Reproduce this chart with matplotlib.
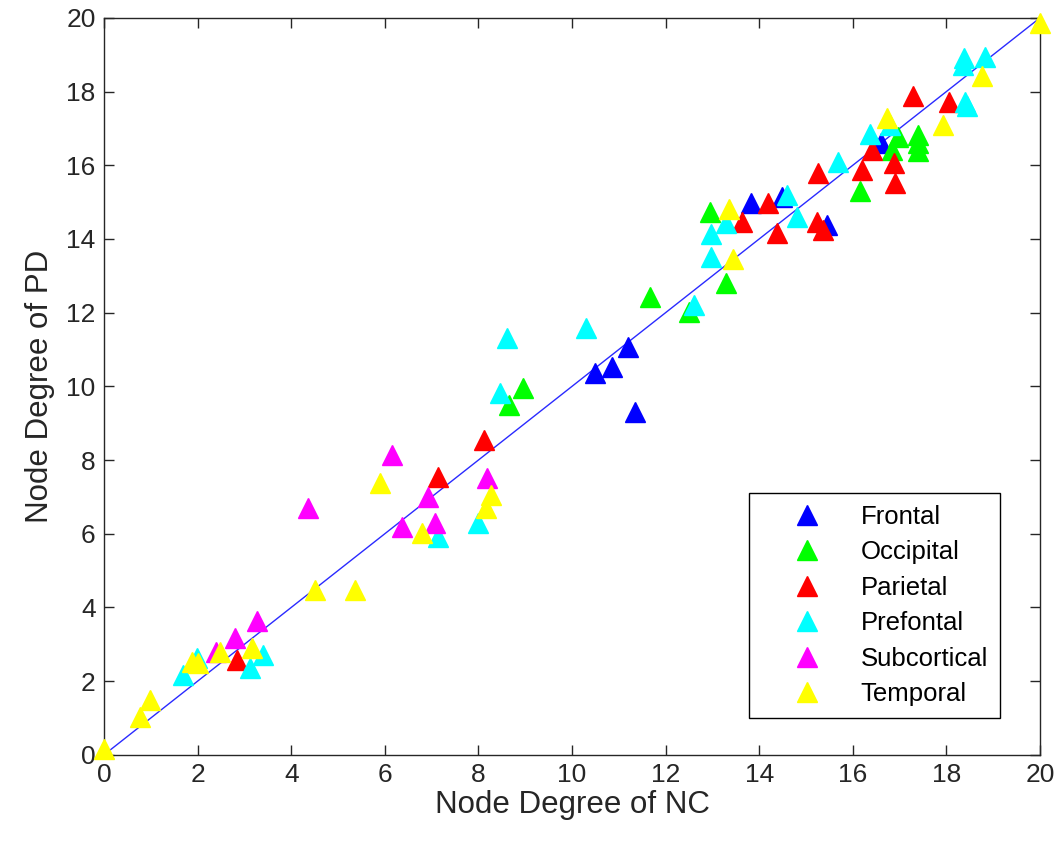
import matplotlib.pyplot as plt
import numpy as np

plt.rcParams['font.family'] = ['Liberation Sans', 'DejaVu Sans']

# -----------------------------
# Data (node degree NC vs PD)
# -----------------------------
frontal_x = [10.5, 10.85, 11.2, 11.35, 13.82, 14.49, 15.45, 16.6]
frontal_y = [10.37, 10.53, 11.07, 9.31, 14.98, 15.15, 14.38, 16.6]

occipital_x = [8.65, 8.95, 11.67, 12.5, 12.95, 13.29, 16.15, 16.84, 16.97, 17.4, 17.4, 17.4]
occipital_y = [9.5, 9.96, 12.43, 12.02, 14.73, 12.8, 15.3, 16.42, 16.77, 16.82, 16.6, 16.38]

parietal_x = [2.84, 7.14, 8.12, 13.63, 14.19, 14.38, 15.23, 15.37, 15.26, 16.2, 16.4, 16.87, 16.9, 17.29, 18.06]
parietal_y = [2.58, 7.54, 8.55, 14.46, 14.98, 14.17, 14.46, 14.25, 15.79, 15.87, 16.42, 16.06, 15.52, 17.88, 17.72]

prefrontal_x = [1.69, 1.99, 3.12, 3.4, 7.14, 8.0, 8.46, 8.6, 10.3, 12.6, 12.97, 12.97, 13.29,
                14.6, 14.8, 15.68, 16.37, 16.8, 18.4, 18.45, 18.36, 18.38, 18.82]
prefrontal_y = [2.17, 2.63, 2.36, 2.71, 5.92, 6.3, 9.82, 11.3, 11.58, 12.2, 13.5, 14.13, 14.43,
                15.2, 14.6, 16.1, 16.85, 17.1, 17.72, 17.62, 18.72, 18.91, 18.94]

subcortical_x = [2.4, 2.8, 3.27, 4.36, 6.15, 6.37, 6.92, 7.07, 8.18]
subcortical_y = [2.8, 3.17, 3.64, 6.7, 8.14, 6.19, 7.0, 6.3, 7.52]

temporal_x = [0.0, 0.77, 0.98, 1.88, 2.01, 2.48, 3.16, 4.5, 5.36, 5.9, 6.8, 8.16, 8.27,
              13.44, 13.35, 16.73, 17.93, 18.76, 20.0]
temporal_y = [0.15, 1.03, 1.49, 2.52, 2.5, 2.8, 2.9, 4.48, 4.48, 7.38, 6.02, 6.7, 7.06,
              13.45, 14.8, 17.29, 17.1, 18.43, 19.87]

groups = ["Frontal", "Occipital", "Parietal", "Prefontal", "Subcortical", "Temporal"]
colors = ["#0000ff", "#00ff00", "#ff0000", "#00ffff", "#ff00ff", "#ffff00"]
xs = [frontal_x, occipital_x, parietal_x, prefrontal_x, subcortical_x, temporal_x]
ys = [frontal_y, occipital_y, parietal_y, prefrontal_y, subcortical_y, temporal_y]

# -----------------------------
# Plot
# -----------------------------
fig = plt.figure(figsize=(10.62, 8.5), dpi=100)
ax = fig.add_axes([0.098, 0.112, 0.8813, 0.867])

for gx, gy, c, name in zip(xs, ys, colors, groups):
    ax.plot(gx, gy, linestyle='None', marker='^', markersize=14,
            color=c, markeredgecolor=c, label=name, clip_on=False, zorder=3)

ax.plot([0, 20], [0, 20], color='#2a2aff', linewidth=1.0, zorder=2)

ax.set_xlim(0, 20)
ax.set_ylim(0, 20)
ax.set_xticks(np.arange(0, 21, 2))
ax.set_yticks(np.arange(0, 21, 2))
ax.tick_params(direction='in', top=True, right=True, length=7, width=1,
               labelsize=19, colors='#262626', pad=6)
for s in ax.spines.values():
    s.set_color('#262626')
    s.set_linewidth(1)

ax.set_xlabel("Node Degree of NC", fontsize=22.5, color='#262626', labelpad=2)
ax.set_ylabel("Node Degree of PD", fontsize=22.5, color='#262626', labelpad=8)

leg = ax.legend(loc='lower right', bbox_to_anchor=(0.957, 0.050), fontsize=18.5,
                frameon=True, fancybox=False, edgecolor='black', framealpha=1,
                labelspacing=0.45, handlelength=3.6, handletextpad=0.3,
                borderpad=0.45, borderaxespad=0, numpoints=1)
leg.get_frame().set_linewidth(1)
leg.set_zorder(5)

fig.savefig("out.png", dpi=100)
